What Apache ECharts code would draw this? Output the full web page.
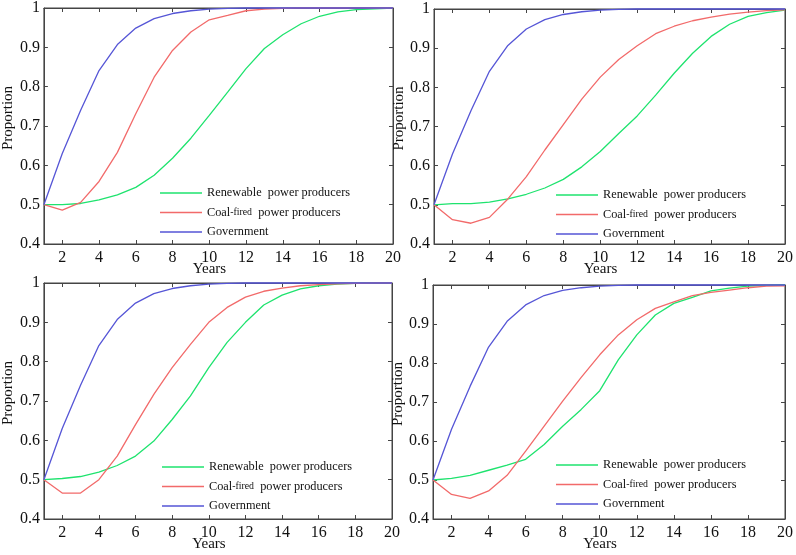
<!DOCTYPE html>
<html lang="en">

<head>
    <meta charset="UTF-8">
    <title>Proportion over years</title>
    <script src="https://cdnjs.cloudflare.com/ajax/libs/echarts/6.0.0/echarts.min.js"></script>
    <style>
        body { margin: 0; background: #fff; }
    </style>
</head>

<body>
    <div id="main" style="width: 796px;height:555px;"></div>

    <script>
        // values
        const years = [1, 2, 3, 4, 5, 6, 7, 8, 9, 10, 11, 12, 13, 14, 15, 16, 17, 18, 19, 20];
        const xTicks = [2, 4, 6, 8, 10, 12, 14, 16, 18, 20];

        const government = [0.5, 0.63, 0.74, 0.841, 0.907, 0.949, 0.973, 0.986, 0.993, 0.997, 0.999, 1, 1, 1, 1, 1, 1, 1, 1, 1];

        const renewableA = [0.5, 0.5, 0.503, 0.512, 0.525, 0.544, 0.575, 0.618, 0.669, 0.727, 0.786, 0.846, 0.897, 0.932, 0.96, 0.979, 0.99, 0.996, 0.998, 1];
        const coalA = [0.5, 0.486, 0.506, 0.559, 0.633, 0.731, 0.824, 0.892, 0.939, 0.97, 0.981, 0.993, 0.997, 0.999, 1, 1, 1, 1, 1, 1];

        const renewableB = [0.5, 0.503, 0.503, 0.507, 0.515, 0.527, 0.543, 0.565, 0.597, 0.636, 0.682, 0.727, 0.78, 0.836, 0.887, 0.93, 0.961, 0.981, 0.991, 0.997];
        const coalB = [0.5, 0.462, 0.453, 0.468, 0.515, 0.572, 0.64, 0.705, 0.77, 0.826, 0.871, 0.906, 0.937, 0.956, 0.97, 0.979, 0.987, 0.992, 0.996, 0.998];

        const renewableC = [0.5, 0.503, 0.508, 0.519, 0.536, 0.56, 0.598, 0.653, 0.713, 0.785, 0.849, 0.9, 0.944, 0.969, 0.985, 0.993, 0.997, 0.999, 1, 1];
        const coalC = [0.5, 0.466, 0.466, 0.5, 0.56, 0.64, 0.717, 0.785, 0.844, 0.9, 0.938, 0.964, 0.979, 0.987, 0.993, 0.996, 0.998, 0.999, 1, 1];

        const renewableD = [0.5, 0.504, 0.512, 0.525, 0.538, 0.553, 0.591, 0.638, 0.681, 0.729, 0.808, 0.872, 0.923, 0.953, 0.968, 0.985, 0.992, 0.997, 0.999, 1];
        const coalD = [0.5, 0.463, 0.453, 0.472, 0.512, 0.574, 0.638, 0.702, 0.763, 0.821, 0.872, 0.911, 0.94, 0.957, 0.973, 0.981, 0.987, 0.993, 0.997, 0.998];

        const seriesNames = ['Renewable power producers', 'Coal-fired power producers', 'Government'];
        const colors = ['#1ee36e', '#f26a6a', '#5555d6'];

        const panels = [
            { grid: { left: 37, top: 8, width: 356, height: 236 }, legend: { left: 160, top: 187 }, renew: renewableA, coal: coalA },
            { grid: { left: 434, top: 9, width: 354, height: 235 }, legend: { left: 556, top: 189 }, renew: renewableB, coal: coalB },
            { grid: { left: 36, top: 283, width: 356, height: 236 }, legend: { left: 162, top: 461 }, renew: renewableC, coal: coalC },
            { grid: { left: 433, top: 285, width: 355, height: 234 }, legend: { left: 556, top: 459 }, renew: renewableD, coal: coalD }
        ];

        const font = "'Liberation Serif', 'Times New Roman', serif";
        const frame = '#454545';

        const myChart = echarts.init(document.getElementById('main'));
        drawPanels();

        function pairs(values) {
            return years.map((y, i) => [y, values[i]]);
        }

        function drawPanels() {
            let grid = [], xAxis = [], yAxis = [], series = [], legend = [];

            panels.forEach((p, k) => {
                grid.push(Object.assign({ show: true, borderColor: frame, borderWidth: 1 }, p.grid));

                // bottom axis with labels, top axis only for the inward ticks
                xAxis.push({
                    type: 'value', gridIndex: k, min: 1, max: 20,
                    name: 'Years', nameLocation: 'middle', nameGap: 18, nameMoveOverlap: false,
                    nameTextStyle: { fontFamily: font, fontSize: 15, color: '#111', padding: [0, 18, 0, 0] },
                    axisLine: { lineStyle: { color: frame } },
                    axisTick: { inside: true, length: 4, customValues: xTicks, lineStyle: { color: frame } },
                    axisLabel: { customValues: xTicks, margin: 6, fontFamily: font, fontSize: 16, color: '#111' },
                    splitLine: { show: false }
                });
                xAxis.push({
                    type: 'value', gridIndex: k, min: 1, max: 20, position: 'top',
                    axisLine: { lineStyle: { color: frame } },
                    axisTick: { inside: true, length: 4, customValues: xTicks, lineStyle: { color: frame } },
                    axisLabel: { show: false },
                    splitLine: { show: false }
                });

                yAxis.push({
                    type: 'value', gridIndex: k, min: 0.4, max: 1, interval: 0.1,
                    name: 'Proportion', nameLocation: 'middle', nameGap: 24,
                    nameTextStyle: { fontFamily: font, fontSize: 15, color: '#111', padding: [0, 0, 0, 16] },
                    axisLine: { show: true, lineStyle: { color: frame } },
                    axisTick: { show: true, inside: true, length: 4, lineStyle: { color: frame } },
                    axisLabel: { margin: 4, fontFamily: font, fontSize: 16, color: '#111' },
                    splitLine: { show: false }
                });
                yAxis.push({
                    type: 'value', gridIndex: k, min: 0.4, max: 1, interval: 0.1, position: 'right',
                    axisLine: { show: true, lineStyle: { color: frame } },
                    axisTick: { show: true, inside: true, length: 4, lineStyle: { color: frame } },
                    axisLabel: { show: false },
                    splitLine: { show: false }
                });

                let lines = [p.renew, p.coal, government];
                lines.forEach((vals, j) => {
                    series.push({
                        name: seriesNames[j],
                        type: 'line',
                        xAxisIndex: 2 * k,
                        yAxisIndex: 2 * k,
                        data: pairs(vals),
                        symbol: 'none',
                        clip: false,
                        color: colors[j],
                        lineStyle: { width: 1.3, color: colors[j] },
                        z: 2 + j
                    });
                });

                legend.push(Object.assign({
                    orient: 'vertical',
                    data: seriesNames,
                    icon: 'rect',
                    itemWidth: 42,
                    itemHeight: 1.5,
                    itemGap: 7.5,
                    padding: 0,
                    selectedMode: false,
                    formatter: (name) => {
                        if (name.startsWith('Renewable')) return '{a|Renewable}{a|  power producers}';
                        if (name.startsWith('Coal')) return '{a|Coal}{b|-fired}{a|  power producers}';
                        return '{a|' + name + '}';
                    },
                    textStyle: {
                        rich: {
                            a: { fontFamily: font, fontSize: 12.3, color: '#111', lineHeight: 14 },
                            b: { fontFamily: font, fontSize: 9.8, color: '#111', lineHeight: 14 }
                        }
                    }
                }, p.legend));
            });

            myChart.setOption({
                animation: false,
                grid: grid,
                xAxis: xAxis,
                yAxis: yAxis,
                legend: legend,
                series: series
            });
        }
    </script>
</body>

</html>
